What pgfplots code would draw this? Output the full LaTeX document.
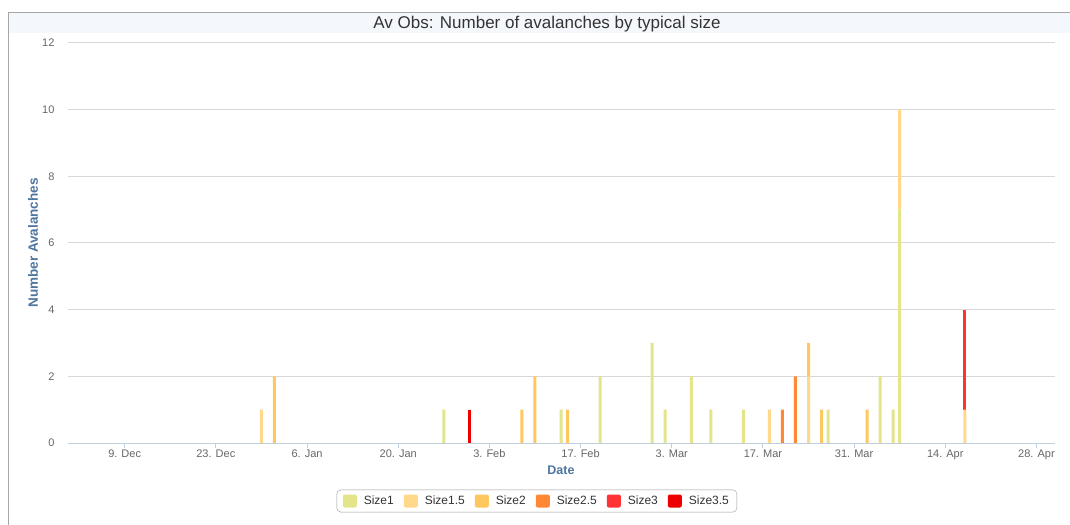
\documentclass[border=0pt]{standalone}
\usepackage{fontspec}
\setmainfont{Liberation Sans}
\usepackage{pgfplots}
\usepackage{pgfplotstable}
\pgfplotsset{compat=1.18}
\definecolor{sA}{HTML}{E4E48B}
\definecolor{sB}{HTML}{FFD88A}
\definecolor{sC}{HTML}{FFC85E}
\definecolor{sD}{HTML}{FF8833}
\definecolor{sE}{HTML}{FF3333}
\definecolor{sF}{HTML}{EE0000}
\definecolor{labblue}{HTML}{4D759E}
\definecolor{tickgray}{HTML}{666666}
\definecolor{gridgray}{HTML}{D8D8D8}
\definecolor{axisblue}{HTML}{C0D0E0}
\definecolor{titleband}{HTML}{F4F7FC}
\pgfplotstableread{
day s1 s15 s2 s25 s3 s35
21 0 1 0 0 0 0
23 0 0 2 0 0 0
49 1 0 0 0 0 0
53 0 0 0 0 0 1
61 0 0 1 0 0 0
63 0 0 2 0 0 0
67 1 0 0 0 0 0
68 0 0 1 0 0 0
73 2 0 0 0 0 0
81 3 0 0 0 0 0
83 1 0 0 0 0 0
87 2 0 0 0 0 0
90 1 0 0 0 0 0
95 1 0 0 0 0 0
99 0 1 0 0 0 0
101 0 0 0 1 0 0
103 0 0 0 2 0 0
105 0 2 1 0 0 0
107 0 0 1 0 0 0
108 1 0 0 0 0 0
114 0 0 1 0 0 0
116 2 0 0 0 0 0
118 1 0 0 0 0 0
119 7 3 0 0 0 0
129 0 1 0 0 3 0
}\avdata
\begin{document}
\begin{tikzpicture}
\path[use as bounding box] (0,0) rectangle (1070bp,525bp);
\fill[titleband] (8bp,492bp) rectangle (1070bp,513bp);
\draw[gray!70, line width=0.8bp] (8bp,0) -- (8bp,513bp) -- (1070bp,513bp);
\node[font=\fontsize{17bp}{20bp}\selectfont, text=black!80] at (547bp,501bp) {Av Obs: Number of avalanches by typical size};
\begin{axis}[
  at={(68bp,82bp)}, anchor=south west,
  scale only axis, width=987bp, height=400bp,
  xmin=-8.7, xmax=142.85, ymin=0, ymax=12,
  ybar stacked, bar width=3bp,
  ytick={0,2,...,12},
  xtick={0,14,...,140},
  xticklabels={9. Dec,23. Dec,6. Jan,20. Jan,3. Feb,17. Feb,3. Mar,17. Mar,31. Mar,14. Apr,28. Apr},
  axis x line*=bottom, axis y line*=left,
  x axis line style={draw=axisblue, line width=1bp, -},
  y axis line style={draw=none},
  ytick style={draw=none},
  xtick style={draw=axisblue, line width=1bp},
  tick align=outside, major tick length=5bp,
  ymajorgrids, grid style={gridgray, line width=1bp},
  /pgf/number format/assume math mode=true,
  ticklabel style={font=\fontsize{11bp}{13bp}\selectfont, text=tickgray},
  xticklabel style={yshift=1.5bp},
  yticklabel style={xshift=-5bp},
  xlabel={Date}, ylabel={Number Avalanches},
  xlabel style={font=\bfseries\fontsize{12.5bp}{14bp}\selectfont, text=labblue, at={(axis description cs:0.4995,-0.0675)}, anchor=center},
  ylabel style={font=\bfseries\fontsize{13.5bp}{15bp}\selectfont, text=labblue, at={(axis description cs:-0.0355,0.5)}, anchor=center},
  legend columns=6,
  legend style={at={(axis description cs:0.475,-0.145)}, anchor=center, draw=black!40, rounded corners=4bp, font=\fontsize{12bp}{14bp}\selectfont, text=black!80, inner xsep=6bp, inner ysep=4bp, /tikz/every even column/.append style={column sep=8bp}, /tikz/every odd column/.append style={column sep=5bp}},
  legend image code/.code={\fill[#1, draw=none, rounded corners=2bp] (0bp,-6.5bp) rectangle (14bp,6.5bp);},
]
\addplot[fill=sA, draw=none] table[x=day, y=s1] {\avdata};
\addlegendentry{Size1}
\addplot[fill=sB, draw=none] table[x=day, y=s15] {\avdata};
\addlegendentry{Size1.5}
\addplot[fill=sC, draw=none] table[x=day, y=s2] {\avdata};
\addlegendentry{Size2}
\addplot[fill=sD, draw=none] table[x=day, y=s25] {\avdata};
\addlegendentry{Size2.5}
\addplot[fill=sE, draw=none] table[x=day, y=s3] {\avdata};
\addlegendentry{Size3}
\addplot[fill=sF, draw=none] table[x=day, y=s35] {\avdata};
\addlegendentry{Size3.5}
\end{axis}
\end{tikzpicture}
\end{document}
